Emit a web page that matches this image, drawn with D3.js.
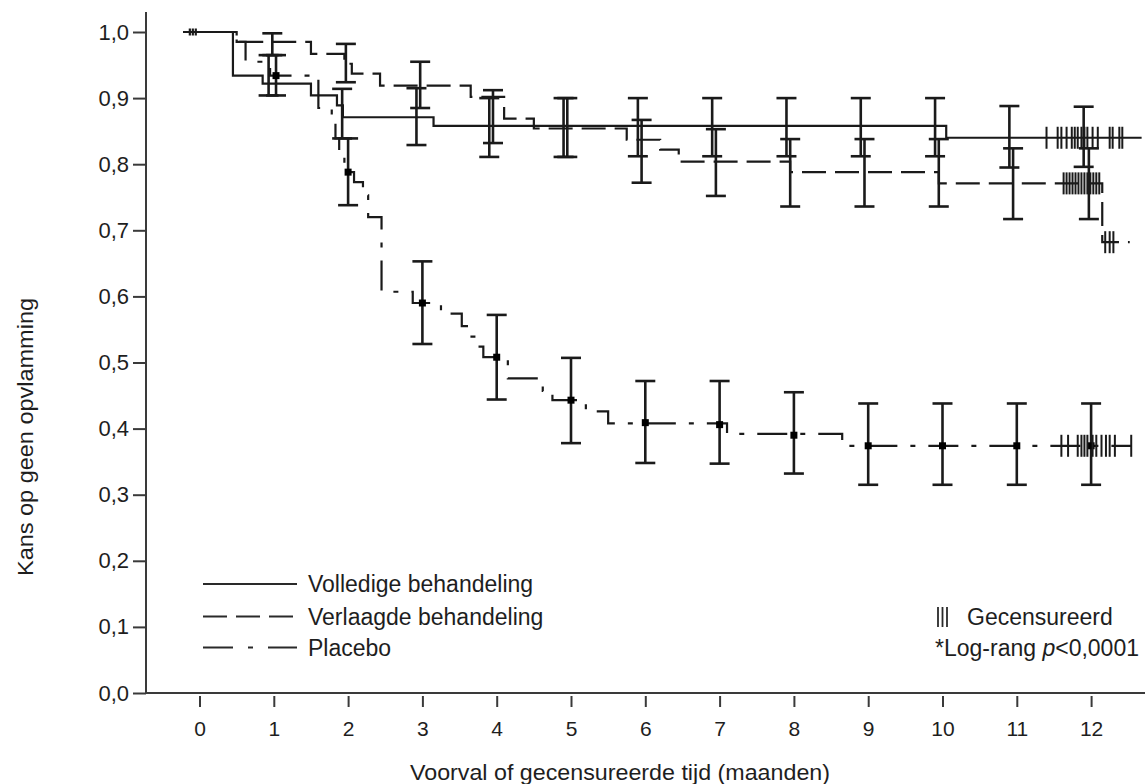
<!DOCTYPE html>
<html><head><meta charset="utf-8">
<script src="https://cdn.jsdelivr.net/npm/d3@7"></script>
<style>
html,body{margin:0;padding:0;background:#fff;}
svg{display:block;font-family:"Liberation Sans",Arial,sans-serif;}
</style></head>
<body><svg id="c" width="1145" height="784"></svg>
<script>
// ---- data ----
const monthTicks = [0,1,2,3,4,5,6,7,8,9,10,11,12];
const yTicks = [0,0.1,0.2,0.3,0.4,0.5,0.6,0.7,0.8,0.9,1.0];
const yTickLabels = ["0,0","0,1","0,2","0,3","0,4","0,5","0,6","0,7","0,8","0,9","1,0"];
const seriesNames = ["Volledige behandeling","Verlaagde behandeling","Placebo"];

// step curves: time (months) at which survival changes, survival after change
const solidT = [-0.22,0.45,0.85,1.5,1.85,1.93,3.15,10.05];
const solidS = [1.0,0.934,0.922,0.904,0.889,0.871,0.858,0.84];
const solidEnd = 12.68;
const dashedT = [-0.22,0.5,1.5,1.95,2.05,2.43,3.65,4.1,4.5,5.75,6.2,6.45,7.95,9.95,12.15];
const dashedS = [1.0,0.985,0.967,0.952,0.937,0.919,0.902,0.869,0.854,0.837,0.822,0.804,0.788,0.771,0.682];
const dashedEnd = 12.52;
const placeboT = [-0.22,0.5,0.62,0.85,0.95,1.6,1.78,1.83,1.88,1.95,2.08,2.2,2.27,2.45,2.87,3.25,3.53,3.62,3.75,3.82,4.15,4.62,4.75,5.2,5.5,7.1,8.65];
const placeboS = [1.0,0.985,0.955,0.944,0.934,0.885,0.868,0.839,0.812,0.788,0.773,0.753,0.72,0.607,0.59,0.574,0.555,0.539,0.524,0.508,0.476,0.457,0.443,0.426,0.408,0.392,0.374];
const placeboEnd = 12.55;

// error bars
const solidBarT  = [0.93,1.92,2.92,3.9,4.9,5.9,6.9,7.9,8.9,9.9,10.9,11.9];
const solidBarV  = [0.934,0.871,0.871,0.856,0.856,0.856,0.856,0.856,0.856,0.856,0.84,0.84];
const solidBarLo = [0.904,0.839,0.829,0.811,0.811,0.812,0.812,0.812,0.812,0.812,0.795,0.796];
const solidBarHi = [0.965,0.914,0.915,0.90,0.90,0.90,0.90,0.90,0.90,0.90,0.888,0.887];
const dashedBarT  = [0.98,1.97,2.97,3.95,4.95,5.95,6.95,7.95,8.95,9.95,10.95,11.97];
const dashedBarV  = [0.982,0.952,0.919,0.872,0.854,0.822,0.804,0.788,0.788,0.788,0.771,0.771];
const dashedBarLo = [0.965,0.924,0.885,0.832,0.811,0.772,0.752,0.736,0.736,0.736,0.717,0.717];
const dashedBarHi = [0.998,0.982,0.955,0.912,0.90,0.867,0.853,0.838,0.838,0.838,0.824,0.824];
const placeboBarT  = [1.03,2,3,4,5,6,7,8,9,10,11,12];
const placeboBarV  = [0.934,0.788,0.590,0.508,0.443,0.409,0.406,0.390,0.374,0.374,0.374,0.374];
const placeboBarLo = [0.904,0.738,0.528,0.444,0.378,0.348,0.347,0.332,0.315,0.315,0.315,0.315];
const placeboBarHi = [0.965,0.839,0.653,0.572,0.507,0.472,0.472,0.455,0.438,0.438,0.438,0.438];

// censoring marks
const startCensorT = [-0.13,-0.09,-0.05];
const solidCensorT = [11.40,11.55,11.60,11.67,11.74,11.78,11.82,11.87,11.91,11.95,12.02,12.09,12.25,12.29,12.38,12.42];
const dashedCensorT = [11.63,11.67,11.71,11.75,11.79,11.83,11.87,11.91,11.95,11.99,12.03,12.07,12.11,12.19,12.25,12.30];
const placeboCensorT = [11.60,11.69,11.82,11.87,11.91,11.95,12.02,12.07,12.14,12.20,12.25,12.32,12.54];

// ---- drawing ----
const svg = d3.select("#c");
const ink = "#1a1a1a";
const x = d3.scaleLinear().domain([0,12]).range([199.5,1091.1]);
const y = d3.scaleLinear().domain([0,1]).range([693,32]);

// axes
const gy = svg.append("g").attr("transform","translate(146,0)")
  .call(d3.axisLeft(y).tickValues(yTicks).tickSize(13).tickPadding(4)
        .tickFormat((d,i)=>yTickLabels[i]));
gy.select(".domain").remove();
gy.append("line").attr("x1",0).attr("x2",0).attr("y1",12).attr("y2",693);
gy.selectAll("line").attr("stroke","#3a3a3a").attr("stroke-width",2);
gy.selectAll("text").attr("font-size",22).attr("fill","#1e1e1e");

const gx = svg.append("g").attr("transform","translate(0,693)")
  .call(d3.axisBottom(x).tickValues(monthTicks).tickSize(0).tickPadding(0).tickFormat(d3.format("d")));
gx.select(".domain").remove();
gx.append("line").attr("x1",146).attr("x2",1145).attr("y1",0).attr("y2",0);
gx.selectAll(".tick").append("line").attr("y1",3).attr("y2",14);
gx.selectAll("line").attr("stroke","#3a3a3a").attr("stroke-width",2);
gx.selectAll("text").attr("font-size",21).attr("fill","#1e1e1e").attr("dy",null).attr("y",43);

// axis titles
svg.append("text").attr("transform","translate(33,437) rotate(-90)")
  .attr("text-anchor","middle").attr("font-family","'Liberation Sans Narrow','Liberation Sans',Arial")
  .attr("font-size",22).attr("fill","#1e1e1e")
  .attr("textLength",278).attr("lengthAdjust","spacingAndGlyphs")
  .text("Kans op geen opvlamming");
svg.append("text").attr("x",620).attr("y",780)
  .attr("text-anchor","middle").attr("font-family","'Liberation Sans Narrow','Liberation Sans',Arial")
  .attr("font-size",22).attr("fill","#1e1e1e")
  .attr("textLength",420).attr("lengthAdjust","spacingAndGlyphs")
  .text("Voorval of gecensureerde tijd (maanden)");

const line = d3.line().x(d=>x(d[0])).y(d=>y(d[1])).curve(d3.curveStepAfter);
function pts(T,S,end){ const p = T.map((t,i)=>[t,S[i]]); p.push([end,S[S.length-1]]); return p; }
function survAt(T,S,t){ let v=S[0]; for(let i=0;i<T.length;i++){ if(T[i]<=t) v=S[i]; } return v; }

const series = [
  {T:solidT,S:solidS,end:solidEnd,dash:null,
   bT:solidBarT,bV:solidBarV,bL:solidBarLo,bH:solidBarHi,cT:solidCensorT,sq:false},
  {T:dashedT,S:dashedS,end:dashedEnd,dash:"24,9",
   bT:dashedBarT,bV:dashedBarV,bL:dashedBarLo,bH:dashedBarHi,cT:dashedCensorT,sq:false},
  {T:placeboT,S:placeboS,end:placeboEnd,dash:"30,13,5,13",
   bT:placeboBarT,bV:placeboBarV,bL:placeboBarLo,bH:placeboBarHi,cT:placeboCensorT,sq:true}
];

series.forEach(s=>{
  svg.append("path").attr("d",line(pts(s.T,s.S,s.end)))
    .attr("fill","none").attr("stroke",ink).attr("stroke-width",2.2)
    .attr("stroke-dasharray",s.dash);
});

series.forEach(s=>{
  const g = svg.append("g").attr("stroke",ink).attr("stroke-width",2.6);
  s.bT.forEach((t,i)=>{
    const cx = x(t);
    g.append("line").attr("x1",cx).attr("x2",cx).attr("y1",y(s.bL[i])).attr("y2",y(s.bH[i]));
    g.append("line").attr("x1",cx-10).attr("x2",cx+10).attr("y1",y(s.bL[i])).attr("y2",y(s.bL[i]));
    g.append("line").attr("x1",cx-10).attr("x2",cx+10).attr("y1",y(s.bH[i])).attr("y2",y(s.bH[i]));
    if(s.sq){
      svg.append("rect").attr("x",cx-3.5).attr("y",y(s.bV[i])-3.5).attr("width",7).attr("height",7).attr("fill","#000");
    }
  });
  const gc = svg.append("g").attr("stroke",ink).attr("stroke-width",2);
  s.cT.forEach(t=>{
    const cy = y(survAt(s.T,s.S,t));
    gc.append("line").attr("x1",x(t)).attr("x2",x(t)).attr("y1",cy-11).attr("y2",cy+11);
  });
});
const gs = svg.append("g").attr("stroke",ink).attr("stroke-width",2.2);
startCensorT.forEach(t=>{
  gs.append("line").attr("x1",x(t)).attr("x2",x(t)).attr("y1",y(1)-3.5).attr("y2",y(1)+3.5);
});

// legend
const legY = [584,616.5,647.5];
const legDash = [null,"24,9","30,15,5,15"];
seriesNames.forEach((n,i)=>{
  svg.append("line").attr("x1",203).attr("x2",297).attr("y1",legY[i]).attr("y2",legY[i])
    .attr("stroke","#2a2a2a").attr("stroke-width",2.2).attr("stroke-dasharray",legDash[i]);
  svg.append("text").attr("x",308).attr("y",legY[i]).attr("dy","0.36em")
    .attr("font-size",23).attr("fill","#1e1e1e").text(n);
});
[938,942.5,947].forEach(cx=>{
  svg.append("line").attr("x1",cx).attr("x2",cx).attr("y1",607).attr("y2",627)
    .attr("stroke","#2a2a2a").attr("stroke-width",1.8);
});
svg.append("text").attr("x",967).attr("y",625).attr("font-size",23).attr("fill","#1e1e1e").text("Gecensureerd");
const t2 = svg.append("text").attr("x",935).attr("y",656).attr("font-size",23).attr("fill","#1e1e1e");
t2.append("tspan").text("*Log-rang ");
t2.append("tspan").attr("font-style","italic").text("p");
t2.append("tspan").text("<0,0001");
</script></body></html>
